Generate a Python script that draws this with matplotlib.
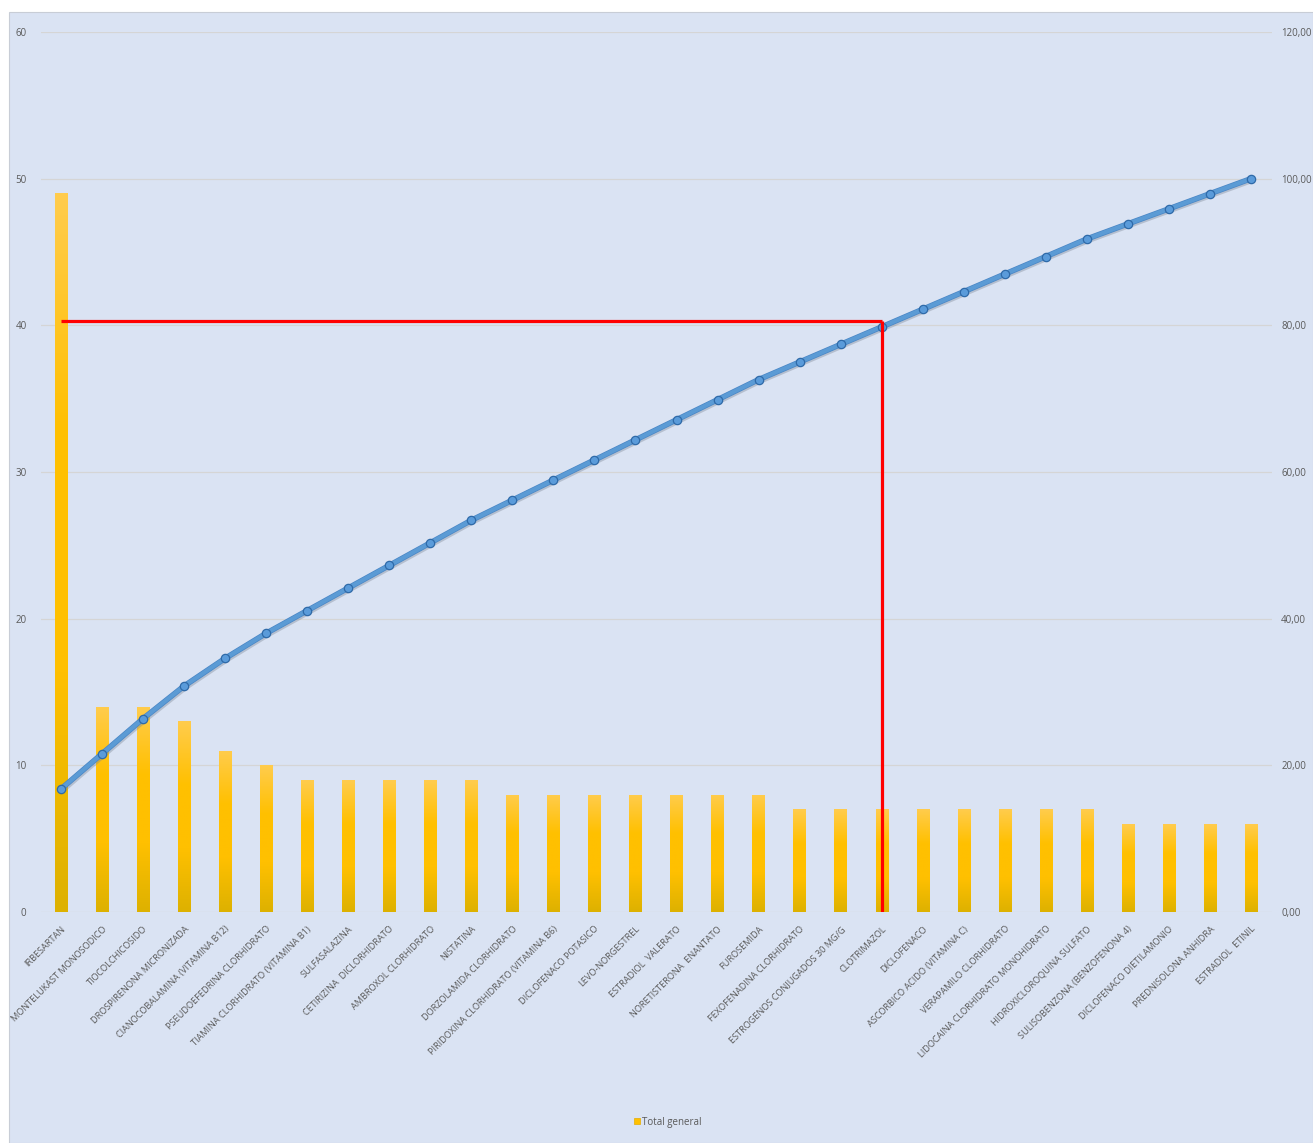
import matplotlib
matplotlib.use('Agg')
import matplotlib.pyplot as plt
import numpy as np
from matplotlib.patches import Rectangle
from matplotlib import patheffects as pe
from matplotlib.ticker import FuncFormatter
from matplotlib.lines import Line2D
from matplotlib import font_manager as fm

# ---------------- data ----------------
categories = [
    "IRBESARTAN", "MONTELUKAST MONOSODICO", "TIOCOLCHICOSIDO", "DROSPIRENONA MICRONIZADA",
    "CIANOCOBALAMINA (VITAMINA B12)", "PSEUDOEFEDRINA CLORHIDRATO", "TIAMINA CLORHIDRATO (VITAMINA B1)",
    "SULFASALAZINA", "CETIRIZINA  DICLORHIDRATO", "AMBROXOL CLORHIDRATO", "NISTATINA",
    "DORZOLAMIDA CLORHIDRATO", "PIRIDOXINA CLORHIDRATO (VITAMINA B6)", "DICLOFENACO POTASICO",
    "LEVO-NORGESTREL", "ESTRADIOL  VALERATO", "NORETISTERONA  ENANTATO", "FUROSEMIDA",
    "FEXOFENADINA CLORHIDRATO", "ESTROGENOS CONJUGADOS 30 MG/G", "CLOTRIMAZOL", "DICLOFENACO",
    "ASCORBICO ACIDO (VITAMINA C)", "VERAPAMILO CLORHIDRATO", "LIDOCAINA CLORHIDRATO MONOHIDRATO",
    "HIDROXICLOROQUINA SULFATO", "SULISOBENZONA (BENZOFENONA 4)", "DICLOFENACO DIETILAMONIO",
    "PREDNISOLONA ANHIDRA", "ESTRADIOL  ETINIL",
]
counts = [49, 14, 14, 13, 11, 10, 9, 9, 9, 9, 9, 8, 8, 8, 8, 8, 8, 8,
          7, 7, 7, 7, 7, 7, 7, 7, 6, 6, 6, 6]
cumulative_pct = [16.78, 21.58, 26.37, 30.82, 34.59, 38.01, 41.10, 44.18, 47.26, 50.34,
                  53.42, 56.16, 58.90, 61.64, 64.38, 67.12, 69.86, 72.60, 75.00, 77.40,
                  79.79, 82.19, 84.59, 86.99, 89.38, 91.78, 93.84, 95.89, 97.95, 100.00]
left_ticks = [0, 10, 20, 30, 40, 50, 60]
right_ticks = [0, 20, 40, 60, 80, 100, 120]
cutoff_pct = 80.6
cutoff_index = 20
legend_label = "Total general"

# ---------------- style ----------------
W, H = 1313, 1143
BG = '#DAE3F3'
GRID = '#D5D5D5'
TXT = '#595959'
installed = {f.name for f in fm.fontManager.ttflist}
FONT = [f for f in ['Liberation Sans Narrow', 'Open Sans', 'Liberation Sans', 'DejaVu Sans']
        if f in installed]
narrow = 'Liberation Sans Narrow' in installed
XSIZE = 7.6 if narrow else 6.6

fig = plt.figure(figsize=(W / 100, H / 100), dpi=100, facecolor='white')
bgrect = Rectangle((9 / W, 0), 1 - 9 / W, 1 - 12 / H, transform=fig.transFigure,
                   facecolor=BG, edgecolor='#C8CDD6', lw=0.8, zorder=-10)
fig.patches.append(bgrect)

left, right = 40.5 / W, 1271.5 / W
top, bottom = 1 - 32 / H, 1 - 912 / H
ax = fig.add_axes([left, bottom, right - left, top - bottom])
ax.patch.set_visible(False)
for s in ax.spines.values():
    s.set_visible(False)

x = np.arange(len(categories))
for t in left_ticks:
    ax.axhline(t, color=GRID, lw=0.9, zorder=0)

bars = ax.bar(x, counts, width=0.3, color='#FFC000', zorder=2)
cmap = matplotlib.colors.LinearSegmentedColormap.from_list(
    'yg', ['#DDB100', '#FFC000', '#FFC000', '#FFCC4D'])
grad = np.linspace(0, 1, 256).reshape(-1, 1)
for b in bars:
    x0, y0 = b.get_x(), b.get_y()
    w, h = b.get_width(), b.get_height()
    im = ax.imshow(grad, cmap=cmap, origin='lower', aspect='auto',
                   extent=[x0, x0 + w, y0, y0 + h], zorder=2.1)
    im.set_clip_path(b)
ax.set_xlim(-0.5, len(categories) - 0.5)
ax.set_ylim(0, 60)
ax.set_yticks(left_ticks)

ax.set_xticks(x)
ax.set_xticklabels(categories, rotation=45, ha='right', va='top', rotation_mode='anchor',
                   fontsize=XSIZE, color=TXT, family=FONT)
ax.tick_params(axis='x', length=0, pad=9)
ax.tick_params(axis='y', length=0, pad=10, labelsize=7, labelcolor=TXT)
for lab in ax.get_yticklabels():
    lab.set_family(FONT)

ax2 = ax.twinx()
ax2.patch.set_visible(False)
for s in ax2.spines.values():
    s.set_visible(False)
ax2.set_ylim(0, 120)
ax2.set_yticks(right_ticks)
ax2.yaxis.set_major_formatter(FuncFormatter(lambda v, p: f"{v:.2f}".replace('.', ',')))
ax2.tick_params(axis='y', length=0, pad=7, labelsize=7, labelcolor=TXT)
for lab in ax2.get_yticklabels():
    lab.set_family(FONT)

ax2.plot(x, cumulative_pct, color='#5B9BD5', lw=3.0, zorder=3,
         solid_capstyle='round', solid_joinstyle='round',
         path_effects=[pe.SimpleLineShadow(offset=(1.2, -1.5), shadow_color='#7F8A99', alpha=0.4),
                       pe.Stroke(linewidth=4.0, foreground='#4A86C5'), pe.Normal()])
ax2.plot(x, cumulative_pct, ls='none', marker='o', ms=6, mfc='#5A9BDA', mec='#2F6AA8',
         mew=0.9, zorder=4)

ax2.plot([0, cutoff_index], [cutoff_pct, cutoff_pct], color='#FF0000', lw=2.3, zorder=5,
         solid_capstyle='butt')
ax2.plot([cutoff_index, cutoff_index], [0, cutoff_pct], color='#FF0000', lw=2.3, zorder=5,
         solid_capstyle='butt')

handle = Line2D([], [], ls='none', marker='s', ms=5, mfc='#FFC000', mec='#E6AC00', mew=0.5)
fig.legend([handle], [legend_label], loc='center', bbox_to_anchor=(0.508, 1 - 1122 / H),
           frameon=False, handletextpad=0.1, handlelength=0.8,
           prop={'family': FONT, 'size': 7}, labelcolor=TXT)

fig.savefig('out.png', dpi=100, facecolor='white')
